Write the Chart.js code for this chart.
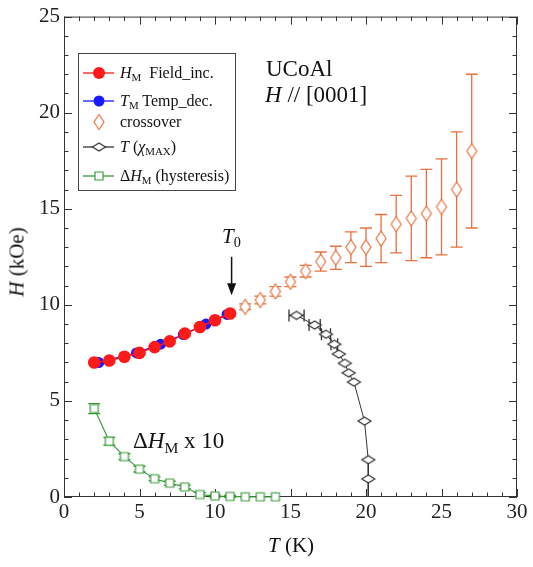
<!DOCTYPE html>
<html>
<head>
<meta charset="utf-8">
<script src="https://cdn.jsdelivr.net/npm/chart.js@4.4.1/dist/chart.umd.min.js"></script>
<style>
  html, body { margin: 0; padding: 0; background: #fff; }
  #wrap { position: relative; width: 533px; height: 567px; font-family: "Liberation Serif", "DejaVu Serif", serif; color: #111; }
  #wrap canvas { position: absolute; left: 0; top: 0; }
  .lbl { position: absolute; white-space: nowrap; line-height: 1; }
  .lbl sub { font-size: 0.68em; vertical-align: -0.3em; line-height: 0; }
  .leg { font-size: 16px; transform: translateY(-50%); }
  .big { font-size: 23px; }
</style>
</head>
<body>
<div id="wrap">
  <canvas id="chart" width="533" height="567"></canvas>

  <div class="lbl leg" style="left:120px; top:73px"><i>H</i><sub>M</sub>&nbsp;&nbsp;Field_inc.</div>
  <div class="lbl leg" style="left:120px; top:101px"><i>T</i><sub>M</sub> Temp_dec.</div>
  <div class="lbl leg" style="left:120px; top:122px">crossover</div>
  <div class="lbl leg" style="left:120px; top:147px"><i>T</i> (<i>χ</i><sub>MAX</sub>)</div>
  <div class="lbl leg" style="left:120px; top:176px">Δ<i>H</i><sub>M</sub> (hysteresis)</div>

  <div class="lbl big" style="left:266px; top:57px">UCoAl</div>
  <div class="lbl big" style="left:265px; top:83px"><i>H</i> // [0001]</div>
  <div class="lbl" style="left:222px; top:226px; font-size:21px"><i>T</i><sub>0</sub></div>
  <div class="lbl big" style="left:133px; top:429px">Δ<i>H</i><sub>M</sub> x 10</div>

  <div class="lbl" style="left:291px; top:545px; font-size:21px; transform:translate(-50%,-50%)"><i>T</i> (K)</div>
  <div class="lbl" style="left:17px; top:262px; font-size:21px; transform:translate(-50%,-50%) rotate(-90deg)"><i>H</i> (kOe)</div>
</div>
<script>
// H_M, field increasing
const fieldT = [2, 3, 4, 5, 6, 7, 8, 9, 10, 11];
const fieldH = [7.0, 7.1, 7.3, 7.5, 7.8, 8.1, 8.5, 8.85, 9.2, 9.55];

// T_M, temperature decreasing
const tempT = [2.3, 4.8, 6.4, 7.9, 9.4, 10.8];
const tempH = [7.0, 7.5, 7.95, 8.45, 9.0, 9.5];

// crossover
const crossT = [12, 13, 14, 15, 16, 17, 18, 19, 20, 21, 22, 23, 24, 25, 26, 27];
const crossH = [9.9, 10.25, 10.7, 11.2, 11.75, 12.25, 12.45, 13.0, 13.0, 13.45, 14.2, 14.5, 14.75, 15.1, 16.0, 18.0];
const crossErr = [0.15, 0.2, 0.25, 0.25, 0.3, 0.5, 0.6, 0.8, 1.0, 1.25, 1.5, 2.2, 2.3, 2.5, 3.0, 4.0];

// T(chi_MAX)
const chiT = [15.4, 16.6, 17.35, 17.9, 18.2, 18.6, 18.85, 19.2, 19.9, 20.15, 20.15, 20.15];
const chiH = [9.45, 8.95, 8.47, 7.95, 7.44, 6.96, 6.46, 5.98, 3.95, 1.94, 0.94, 0];
const chiErrT = [0.5, 0.37, 0.3, 0.22, 0, 0, 0, 0, 0, 0, 0, 0];

// hysteresis dH_M x 10
const hystT = [2, 3, 4, 5, 6, 7, 8, 9, 10, 11, 12, 13, 14];
const hystH = [4.6, 2.9, 2.1, 1.45, 0.95, 0.72, 0.52, 0.13, 0.05, 0.03, 0.01, 0.01, 0.01];
const hystErr = [0.26, 0.2, 0.15, 0.15, 0.1, 0.1, 0.1, 0.1, 0.05, 0.05, 0, 0, 0];

const RED = "#ff1a1a", BLUE = "#1a1aff", ORANGE = "#e8703e", BLACK = "#333333", GREEN = "#3a9a3a";

function pts(xs, ys) { return xs.map((v, i) => ({ x: v, y: ys[i] })); }

function marker(w, h, shape, stroke) {
  const c = document.createElement("canvas");
  c.width = w + 4; c.height = h + 4;
  const g = c.getContext("2d");
  g.translate(c.width / 2, c.height / 2);
  g.beginPath();
  if (shape === "diamond") {
    g.moveTo(0, -h / 2); g.lineTo(w / 2, 0); g.lineTo(0, h / 2); g.lineTo(-w / 2, 0); g.closePath();
  } else {
    g.rect(-w / 2, -h / 2, w, h);
  }
  g.fillStyle = "#fff"; g.fill();
  g.strokeStyle = stroke; g.lineWidth = 1.2; g.stroke();
  return c;
}

const crossMark = marker(10, 15, "diamond", ORANGE);
const chiMark = marker(13, 8, "diamond", BLACK);
const hystMark = marker(8, 8, "square", GREEN);

const plotDecor = {
  id: "plotDecor",
  beforeDatasetsDraw(chart) {
    const { ctx, chartArea: a, scales: { x, y } } = chart;
    ctx.save();
    ctx.strokeStyle = "#333"; ctx.lineWidth = 1;
    ctx.strokeRect(a.left + 0.5, a.top + 0.5, a.right - a.left - 1, a.bottom - a.top - 1);
    ctx.beginPath();
    for (let t = x.min; t <= x.max; t++) {
      const px = Math.round(x.getPixelForValue(t)) + 0.5;
      const len = t % 5 === 0 ? 8 : 4.5;
      ctx.moveTo(px, a.bottom); ctx.lineTo(px, a.bottom - len);
      ctx.moveTo(px, a.top); ctx.lineTo(px, a.top + len);
    }
    for (let h = y.min; h <= y.max; h++) {
      const py = Math.round(y.getPixelForValue(h)) + 0.5;
      const len = h % 5 === 0 ? 8 : 4.5;
      ctx.moveTo(a.left, py); ctx.lineTo(a.left + len, py);
      ctx.moveTo(a.right, py); ctx.lineTo(a.right - len, py);
    }
    ctx.stroke();

    // error bars
    chart.data.datasets.forEach((ds) => {
      if (!ds.errY && !ds.errX) return;
      ctx.strokeStyle = ds.borderColor; ctx.lineWidth = 1.3;
      ctx.beginPath();
      ds.data.forEach((p, i) => {
        const cx = x.getPixelForValue(p.x), cy = y.getPixelForValue(p.y);
        if (ds.errY && ds.errY[i] > 0) {
          const y1 = y.getPixelForValue(p.y + ds.errY[i]), y2 = y.getPixelForValue(p.y - ds.errY[i]);
          ctx.moveTo(cx, y1); ctx.lineTo(cx, y2);
          ctx.moveTo(cx - 6, y1); ctx.lineTo(cx + 6, y1);
          ctx.moveTo(cx - 6, y2); ctx.lineTo(cx + 6, y2);
        }
        if (ds.errX && ds.errX[i] > 0) {
          const x1 = x.getPixelForValue(p.x - ds.errX[i]), x2 = x.getPixelForValue(p.x + ds.errX[i]);
          ctx.moveTo(x1, cy); ctx.lineTo(x2, cy);
          ctx.moveTo(x1, cy - 6); ctx.lineTo(x1, cy + 6);
          ctx.moveTo(x2, cy - 6); ctx.lineTo(x2, cy + 6);
        }
      });
      ctx.stroke();
    });
    ctx.restore();
  },
  afterDraw(chart) {
    const { ctx, scales: { x, y } } = chart;
    ctx.save();
    // T0 arrow
    const ax = x.getPixelForValue(11.1);
    const yTop = y.getPixelForValue(12.5), yTip = y.getPixelForValue(10.5);
    ctx.strokeStyle = "#111"; ctx.fillStyle = "#111"; ctx.lineWidth = 1.5;
    ctx.beginPath(); ctx.moveTo(ax, yTop); ctx.lineTo(ax, yTip - 8); ctx.stroke();
    ctx.beginPath(); ctx.moveTo(ax, yTip); ctx.lineTo(ax - 4.5, yTip - 12); ctx.lineTo(ax + 4.5, yTip - 12); ctx.closePath(); ctx.fill();

    // legend box
    ctx.lineWidth = 1; ctx.strokeStyle = "#444";
    ctx.strokeRect(78.5, 53.5, 157, 137);
    const rows = [73, 101, 122, 147, 176];
    const lx = 99;
    const line = (yy, col) => {
      ctx.strokeStyle = col; ctx.lineWidth = 1.3;
      ctx.beginPath(); ctx.moveTo(83, yy); ctx.lineTo(114, yy); ctx.stroke();
    };
    line(rows[0], RED);
    ctx.fillStyle = RED; ctx.beginPath(); ctx.arc(lx, rows[0], 6, 0, Math.PI * 2); ctx.fill();
    line(rows[1], BLUE);
    ctx.fillStyle = BLUE; ctx.beginPath(); ctx.arc(lx, rows[1], 5.5, 0, Math.PI * 2); ctx.fill();
    ctx.drawImage(crossMark, lx - crossMark.width / 2, rows[2] - crossMark.height / 2);
    line(rows[3], BLACK);
    ctx.drawImage(chiMark, lx - chiMark.width / 2, rows[3] - chiMark.height / 2);
    line(rows[4], GREEN);
    ctx.drawImage(hystMark, lx - hystMark.width / 2, rows[4] - hystMark.height / 2);
    ctx.restore();
  }
};

const tickFont = { family: "'Liberation Serif', serif", size: 21 };

new Chart(document.getElementById("chart"), {
  type: "scatter",
  data: {
    datasets: [
      {
        label: "H_M Field_inc.", data: pts(fieldT, fieldH), showLine: true,
        borderColor: RED, backgroundColor: RED, borderWidth: 1.5,
        pointRadius: 6.3, pointBorderWidth: 0, clip: false
      },
      {
        label: "T_M Temp_dec.", data: pts(tempT, tempH), showLine: true,
        borderColor: BLUE, backgroundColor: BLUE, borderWidth: 1.5,
        pointRadius: 5.5, pointBorderWidth: 0, clip: false
      },
      {
        label: "crossover", data: pts(crossT, crossH), showLine: false,
        borderColor: ORANGE, backgroundColor: "#fff", pointStyle: crossMark,
        pointRadius: 6, errY: crossErr, clip: false
      },
      {
        label: "T(chi_MAX)", data: pts(chiT, chiH), showLine: true,
        borderColor: BLACK, backgroundColor: "#fff", borderWidth: 1, pointStyle: chiMark,
        pointRadius: chiH.map((v) => (v === 0 ? 0 : 6)), errX: chiErrT, clip: false
      },
      {
        label: "dH_M (hysteresis)", data: pts(hystT, hystH), showLine: true,
        borderColor: GREEN, backgroundColor: "#fff", borderWidth: 1.2, pointStyle: hystMark,
        pointRadius: 5, errY: hystErr, clip: false
      }
    ]
  },
  options: {
    responsive: false,
    animation: false,
    layout: { padding: { top: 11, right: 16, left: 0, bottom: 0 } },
    plugins: { legend: { display: false }, tooltip: { enabled: false } },
    scales: {
      x: {
        type: "linear", min: 0, max: 30,
        grid: { display: false, drawTicks: false },
        border: { display: false },
        ticks: { stepSize: 5, autoSkip: false, maxRotation: 0, padding: 3, color: "#222", font: tickFont },
        afterFit(s) { s.height = 70; }
      },
      y: {
        type: "linear", min: 0, max: 25,
        grid: { display: false, drawTicks: false },
        border: { display: false },
        ticks: { stepSize: 5, padding: 4, color: "#222", font: tickFont },
        afterFit(s) { s.width = 64; }
      }
    }
  },
  plugins: [plotDecor]
});
</script>
</body>
</html>
